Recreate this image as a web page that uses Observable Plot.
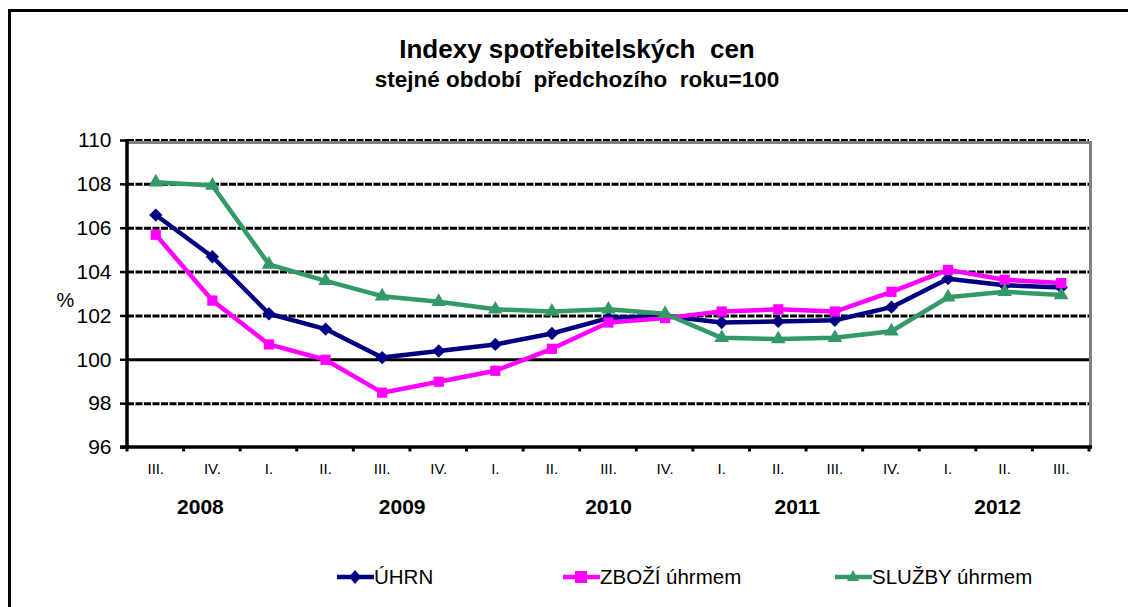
<!DOCTYPE html>
<html>
<head>
<meta charset="utf-8">
<script src="https://cdn.jsdelivr.net/npm/d3@7"></script>
<script src="https://cdn.jsdelivr.net/npm/@observablehq/plot@0.6"></script>
<style>
  html, body { margin: 0; padding: 0; background: #fff; }
  #wrap { position: relative; width: 1128px; height: 607px; overflow: hidden; font-family: "Liberation Sans", Arial, sans-serif; }
  #frame { position: absolute; left: 8px; top: 9px; width: 1200px; height: 700px; border-left: 3px solid #000; border-top: 3px solid #000; }
  #chart { position: absolute; left: 0; top: 0; }
  .t1 { position: absolute; left: 0; width: 1154px; text-align: center; font-weight: bold; color: #000; white-space: pre; }
  #title { top: 34px; font-size: 26px; }
  #subtitle { top: 67px; font-size: 22.5px; }
  #legend { position: absolute; top: 564px; left: 0; width: 1128px; height: 26px; }
  .li { position: absolute; display: flex; align-items: center; font-size: 20.5px; font-family: "Liberation Sans", Arial, sans-serif; color: #000; }
</style>
</head>
<body>
<div id="wrap">
  <div id="frame"></div>
  <div id="chart"></div>
  <div id="title" class="t1">Indexy spotřebitelských  cen</div>
  <div id="subtitle" class="t1">stejné období  předchozího  roku=100</div>
  <div id="legend"></div>
</div>
<script>
// ---- data ----
const quarters = ["III.","IV.","I.","II.","III.","IV.","I.","II.","III.","IV.","I.","II.","III.","IV.","I.","II.","III."];
const quarterYears = [2008,2008,2009,2009,2009,2009,2010,2010,2010,2010,2011,2011,2011,2011,2012,2012,2012];
const uhrn   = [106.6,104.7,102.1,101.4,100.1,100.4,100.7,101.2,101.9,102.0,101.7,101.75,101.8,102.4,103.7,103.4,103.3];
const zbozi  = [105.7,102.7,100.7,100.0,98.5,99.0,99.5,100.5,101.7,101.9,102.2,102.3,102.2,103.1,104.1,103.65,103.5];
const sluzby = [108.1,107.95,104.35,103.6,102.9,102.65,102.3,102.2,102.3,102.1,101.0,100.95,101.0,101.3,102.85,103.1,102.95];
const yTicks = [96,98,100,102,104,106,108,110];
const yearLabels = ["2008","2009","2010","2011","2012"];
const yearAnchorIndex = [1,4,8,11,15];
const seriesNames = ["ÚHRN","ZBOŽÍ úhrmem","SLUŽBY úhrmem"];
const seriesColors = ["#000080","#FF00FF","#339966"];
const seriesSymbols = ["diamond2","square2","triangle2"];

// ---- build ----
const keys = quarters.map((q, i) => `${quarterYears[i]} ${q}`);
const seriesValues = [uhrn, zbozi, sluzby];
const rows = [];
seriesValues.forEach((vals, s) => vals.forEach((v, i) => rows.push({series: seriesNames[s], key: keys[i], value: v})));
const yearDx = [-12, 20, 0, 19, -7];

const W = 1128, H = 607;

// custom mark: black left/bottom axis lines, band-edge ticks, gray plot border (top/right)
function axesFrame(index, scales, values, dim, context) {
  const ns = "http://www.w3.org/2000/svg";
  const g = document.createElementNS(ns, "g");
  const x0 = dim.marginLeft, x1 = dim.width - dim.marginRight;
  const y0 = dim.marginTop, y1 = dim.height - dim.marginBottom;
  const line = (xa, ya, xb, yb, w, c) => {
    if (![xa, ya, xb, yb].every(Number.isFinite)) return;
    const l = document.createElementNS(ns, "line");
    l.setAttribute("x1", xa); l.setAttribute("y1", ya);
    l.setAttribute("x2", xb); l.setAttribute("y2", yb);
    l.setAttribute("stroke", c); l.setAttribute("stroke-width", w);
    g.appendChild(l);
  };
  line(x1 + 1.5, y0 + 1, x1 + 1.5, y1, 3, "#808080");
  line(x0, y0 + 2.5, x1 + 3, y0 + 2.5, 3, "#808080");
  line(x0, y0 - 1, x0, y1 + 1.5, 3.5, "#000");
  line(x0 - 7, y1, x1 + 3, y1, 3.5, "#000");
  const bwRaw = scales.x.bandwidth;
  const bw = typeof bwRaw === "function" ? bwRaw() : bwRaw;
  const start = scales.x(keys[0]);
  for (let i = 0; i <= keys.length; i++) {
    const xx = start + i * bw;
    line(xx, y1, xx, y1 + 4.5, 3, "#000");
  }
  return g;
}

const yearMarks = yearLabels.map((label, i) =>
  Plot.text([label], {x: () => keys[yearAnchorIndex[i]], y: () => 96, dy: 60, dx: yearDx[i], fontSize: 21, fontWeight: "bold", fill: "#000"})
);

const chart = Plot.plot({
  width: W,
  height: H,
  marginLeft: 127,
  marginRight: 39,
  marginTop: 140,
  marginBottom: 160,
  style: {fontFamily: "'Liberation Sans', Arial, sans-serif", color: "#000", background: "transparent"},
  x: {type: "band", domain: keys, padding: 0, round: false, label: null},
  y: {domain: [96, 110], label: null},
  marks: [
    Plot.ruleY(yTicks.filter(t => t !== 96 && t !== 100), {stroke: "#000", strokeWidth: 3, strokeDasharray: "7,1.5"}),
    Plot.ruleY([100], {stroke: "#000", strokeWidth: 3}),
    axesFrame,
    Plot.axisY({ticks: yTicks, tickSize: 7, tickPadding: 9, strokeWidth: 2.5, fontSize: 21, tickFormat: d => String(d), label: null}),
    Plot.axisX({tickSize: 0, tickPadding: 16, fontSize: 15, tickFormat: k => k.split(" ")[1], label: null}),
    ...yearMarks,
    Plot.text(["%"], {frameAnchor: "left", dx: -71, dy: 7, fontSize: 20, fill: "#000"}),
    Plot.line(rows, {x: "key", y: "value", z: "series", stroke: "series", strokeWidth: 4.5, curve: "linear"}),
    Plot.dot(rows.filter(d => d.series === seriesNames[0]), {x: "key", y: "value", symbol: "diamond2", r: 6, fill: seriesColors[0]}),
    Plot.dot(rows.filter(d => d.series === seriesNames[1]), {x: "key", y: "value", symbol: "square2", r: 6.5, fill: seriesColors[1]}),
    Plot.dot(rows.filter(d => d.series === seriesNames[2]), {x: "key", y: "value", symbol: "triangle2", r: 7, fill: seriesColors[2]})
  ],
  color: {domain: seriesNames, range: seriesColors}
});
document.getElementById("chart").appendChild(chart);

// legend
const legendLeft = [337, 563, 835];
const leg = document.getElementById("legend");
seriesNames.forEach((name, i) => {
  const item = document.createElement("div");
  item.className = "li";
  item.style.left = legendLeft[i] + "px";
  const sym = seriesSymbols[i];
  let marker = "";
  if (sym === "diamond2") marker = `<path d="M18,6 L24,13 L18,20 L12,13 Z" fill="${seriesColors[i]}"/>`;
  if (sym === "square2") marker = `<rect x="12" y="7" width="12" height="12" fill="${seriesColors[i]}"/>`;
  if (sym === "triangle2") marker = `<path d="M18,6 L24,17 L12,17 Z" fill="${seriesColors[i]}"/>`;
  item.innerHTML = `<svg width="37" height="26"><line x1="0" y1="13" x2="37" y2="13" stroke="${seriesColors[i]}" stroke-width="4.5"/>${marker}</svg><span>${name}</span>`;
  leg.appendChild(item);
});
</script>
</body>
</html>
